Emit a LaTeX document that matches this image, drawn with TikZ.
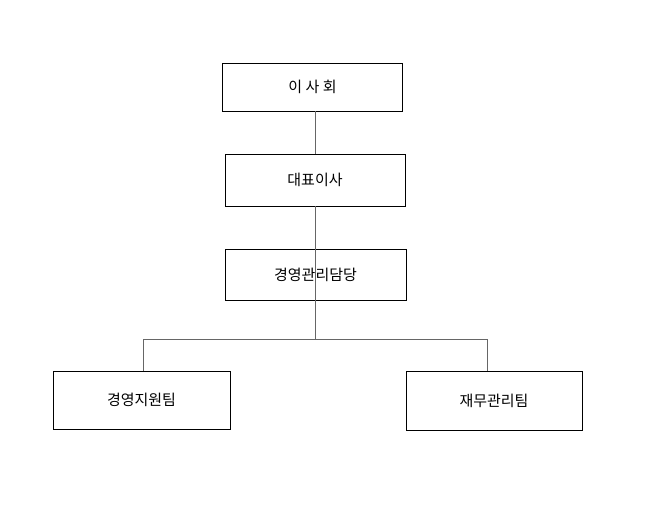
\documentclass[tikz,border=0pt]{standalone}
\usepackage{fontspec}
\setmainfont{Noto Sans CJK KR}
\begin{document}
\begin{tikzpicture}[x=1pt,y=-1pt,
  box/.style={draw=black,line width=0.8pt,minimum width=180pt,minimum height=50pt,inner sep=0pt,font=\fontsize{15}{18}\selectfont},
  conn/.style={draw=black!60,line width=1pt}]
\useasboundingbox (0,0) rectangle (653,507);
\node[box,minimum height=48pt] (a) at (312.5,87) {이 사 회};
\node[box,minimum height=52pt] (b) at (315,180) {대표이사};
\node[box,minimum width=181pt,minimum height=51pt] (c) at (315.5,274.5) {경영관리담당};
\node[box,minimum width=177pt,minimum height=58pt] (d) at (141.5,400) {경영지원팀};
\node[box,minimum width=176pt,minimum height=59pt] (e) at (494,400.5) {재무관리팀};
\coordinate (j) at (315,339);
\draw[conn] (a.south -| j) -- (b.north -| j);
\draw[conn] (b.south -| j) -- (c.south -| j);
\draw[conn] (c.south -| j) -- (j);
\draw[conn] (d.north -| 143,0) -- (143,339) -- (487,339) -- (e.north -| 487,0);
\end{tikzpicture}
\end{document}
